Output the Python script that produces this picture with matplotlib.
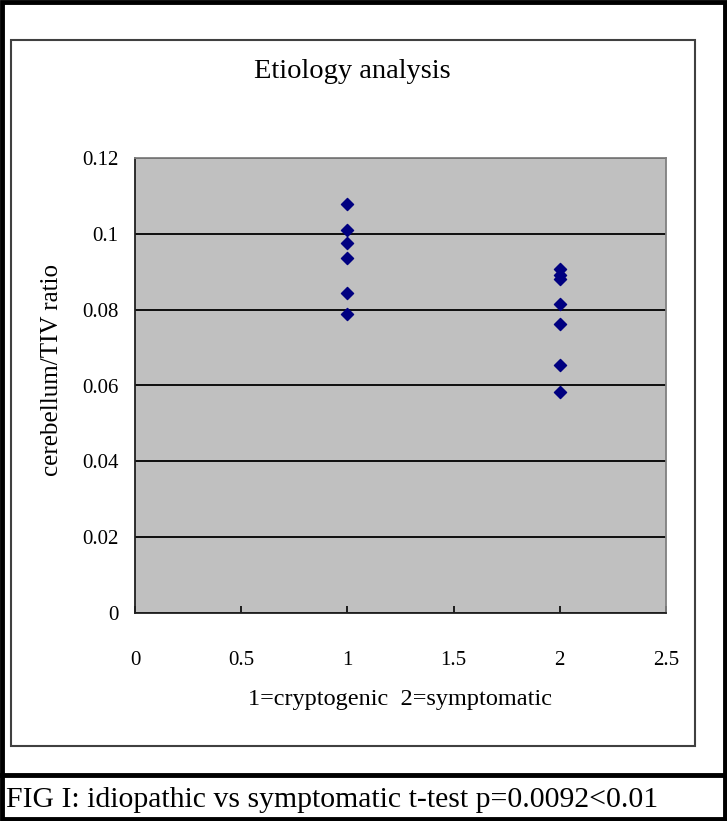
import matplotlib.pyplot as plt
from matplotlib.patches import Rectangle
from matplotlib.lines import Line2D

# group 1 = cryptogenic, group 2 = symptomatic
group1_x = [1, 1, 1, 1, 1, 1]
group1_ratio = [0.1078, 0.1010, 0.0975, 0.0935, 0.0845, 0.0788]
group2_x = [2, 2, 2, 2, 2, 2, 2]
group2_ratio = [0.0907, 0.0891, 0.0880, 0.0814, 0.0761, 0.0654, 0.0584]

x_ticks = [0, 0.5, 1, 1.5, 2, 2.5]
x_tick_labels = ["0", "0.5", "1", "1.5", "2", "2.5"]
y_ticks = [0, 0.02, 0.04, 0.06, 0.08, 0.1, 0.12]
y_tick_labels = ["0", "0.02", "0.04", "0.06", "0.08", "0.1", "0.12"]

W, H = 727, 821
fig = plt.figure(figsize=(W / 100, H / 100), dpi=100)


def fx(px):
    return px / W


def fy(py):
    return 1 - py / H


serif = ["Liberation Serif", "DejaVu Serif"]

# outer frame, chart box and caption separator
fig.add_artist(Rectangle((fx(2), fy(819)), fx(723), 817 / H, fill=False,
                         edgecolor="black", linewidth=3.5, transform=fig.transFigure))
fig.add_artist(Rectangle((fx(11), fy(746)), fx(684), 706 / H, fill=False,
                         edgecolor="#404040", linewidth=1.5, transform=fig.transFigure))
fig.add_artist(Line2D([0, 1], [fy(775), fy(775)], color="black", linewidth=3.5,
                      transform=fig.transFigure))

ax = fig.add_axes([fx(135), fy(613), fx(666 - 135), (613 - 158) / H])
ax.set_facecolor("#c0c0c0")

ax.scatter(group1_x, group1_ratio, marker="D", s=38, color="#000080", zorder=3)
ax.scatter(group2_x, group2_ratio, marker="D", s=38, color="#000080", zorder=3)

ax.set_xlim(0, 2.5)
ax.set_ylim(0, 0.12)
ax.set_xticks(x_ticks)
ax.set_xticklabels(x_tick_labels, family=serif, fontsize=15)
ax.set_yticks(y_ticks)
ax.set_yticklabels(y_tick_labels, family=serif, fontsize=15)
ax.tick_params(axis="x", direction="in", length=5, width=1.2, pad=27)
ax.tick_params(axis="y", length=0, pad=12)
ax.grid(True, axis="y", color="black", linewidth=1.3)
ax.set_axisbelow(True)

for side in ["left", "bottom"]:
    ax.spines[side].set_color("#202020")
    ax.spines[side].set_linewidth(1.3)
for side in ["top", "right"]:
    ax.spines[side].set_color("#808080")
    ax.spines[side].set_linewidth(1.3)

ax.set_ylabel("cerebellum/TIV ratio", family=serif, fontsize=18, va="center")
ax.set_xlabel("1=cryptogenic  2=symptomatic", family=serif, fontsize=17.5, va="center")
ax.yaxis.set_label_coords(-0.156, 0.534)
ax.xaxis.set_label_coords(0.5, -0.191)

fig.text(fx(352), fy(72), "Etiology analysis", family=serif, fontsize=20.5,
         ha="center", va="center")
fig.text(fx(6), fy(800), "FIG I: idiopathic vs symptomatic t-test p=0.0092<0.01",
         family=serif, fontsize=21.4, ha="left", va="center")

fig.savefig("out.png", dpi=100)
